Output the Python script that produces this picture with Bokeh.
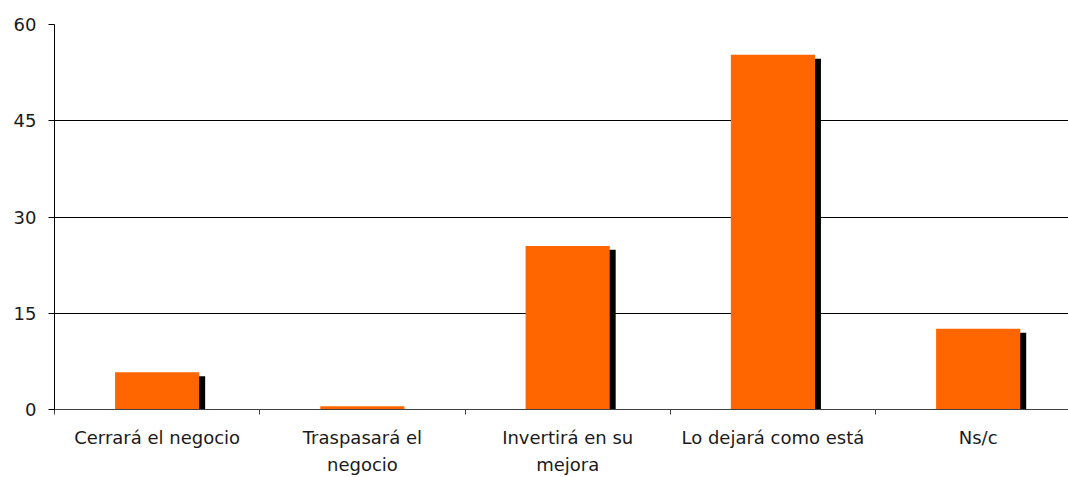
from bokeh.plotting import figure
from bokeh.models import Range1d, FixedTicker, ColumnDataSource
from bokeh.transform import dodge
from bokeh.embed import file_html
from bokeh.resources import INLINE

categories = ["Cerrará el negocio", "Traspasará el\nnegocio", "Invertirá en su\nmejora",
              "Lo dejará como está", "Ns/c"]
values = [5.8, 0.5, 25.5, 55.3, 12.6]
y_ticks = [0, 15, 30, 45, 60]

x_pos = [i + 0.5 for i in range(len(categories))]
src = ColumnDataSource(dict(x=x_pos, v=values))

p = figure(width=1068, height=477, output_backend="svg", toolbar_location=None,
           x_range=Range1d(0, 4.94), y_range=Range1d(0, 60),
           min_border_left=54, min_border_top=24, min_border_right=0, min_border_bottom=0)
p.outline_line_color = None
p.background_fill_color = "white"
p.border_fill_color = "white"

bar_w = 0.41
# shadow
p.vbar(x=dodge("x", 0.029), top=dodge("v", -0.62), bottom=0, width=bar_w, source=src,
       fill_color="black", line_color=None)
p.vbar(x="x", top="v", bottom=0, width=bar_w, source=src,
       fill_color="#FF6600", line_color=None)

font = "DejaVu Sans"
# y axis
p.yaxis.ticker = FixedTicker(ticks=y_ticks)
p.yaxis.axis_line_color = "black"
p.yaxis.major_tick_out = 6
p.yaxis.major_tick_in = 0
p.yaxis.minor_tick_line_color = None
p.yaxis.major_tick_line_color = "black"
p.yaxis.major_label_standoff = 12
p.yaxis.major_label_text_font = font
p.yaxis.major_label_text_font_size = "18px"
p.yaxis.major_label_text_color = "#1a1a1a"
p.ygrid.ticker = FixedTicker(ticks=y_ticks)
p.ygrid.grid_line_color = "black"
p.ygrid.grid_line_width = 1
p.xgrid.grid_line_color = None

# x axis
p.xaxis.ticker = FixedTicker(ticks=x_pos, minor_ticks=list(range(len(categories) + 1)))
p.xaxis.major_label_overrides = {x: c for x, c in zip(x_pos, categories)}
p.xaxis.axis_line_color = "#404040"
p.xaxis.major_tick_out = 0
p.xaxis.major_tick_in = 0
p.xaxis.major_tick_line_color = None
p.xaxis.minor_tick_out = 5
p.xaxis.minor_tick_in = 0
p.xaxis.minor_tick_line_color = "#404040"
p.xaxis.major_label_standoff = 12
p.xaxis.major_label_text_font = font
p.xaxis.major_label_text_font_size = "18px"
p.xaxis.major_label_text_color = "#1a1a1a"
p.xaxis.major_label_text_line_height = 1.3

open("out.html", "w").write(file_html(p, INLINE))
